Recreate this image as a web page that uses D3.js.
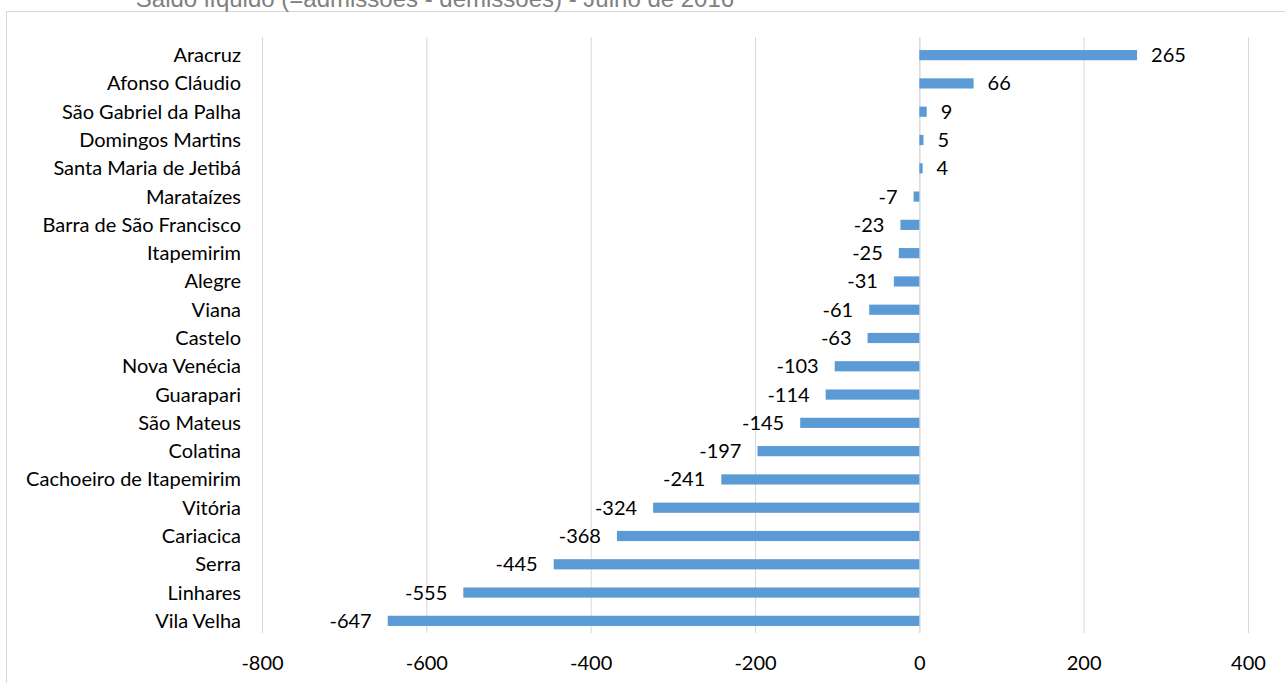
<!DOCTYPE html>
<html>
<head>
<meta charset="utf-8">
<script src="https://cdn.jsdelivr.net/npm/d3@7"></script>
<style>
  body { margin: 0; background: #fff; }
  svg { display: block; }
</style>
</head>
<body>
<svg id="chart" width="1285" height="683"></svg>
<script>
const cities = ["Aracruz", "Afonso Cláudio", "São Gabriel da Palha", "Domingos Martins",
  "Santa Maria de Jetibá", "Marataízes", "Barra de São Francisco", "Itapemirim", "Alegre",
  "Viana", "Castelo", "Nova Venécia", "Guarapari", "São Mateus", "Colatina",
  "Cachoeiro de Itapemirim", "Vitória", "Cariacica", "Serra", "Linhares", "Vila Velha"]
const saldo = [265, 66, 9, 5, 4, -7, -23, -25, -31, -61, -63, -103, -114, -145, -197,
  -241, -324, -368, -445, -555, -647]
const ticks = [-800, -600, -400, -200, 0, 200, 400]

const data = cities.map((c, i) => ({ city: c, value: saldo[i] }))

const svg = d3.select("#chart")

// outer frame (only top & left visible, like the cropped original)
svg.append("rect")
  .attr("x", 6.5).attr("y", 11.5)
  .attr("width", 1300).attr("height", 700)
  .attr("fill", "none")
  .attr("stroke", "#d9d9d9")

svg.append("text")
  .attr("x", 435).attr("y", 7)
  .attr("text-anchor", "middle")
  .style("font-family", "Liberation Sans, Arial")
  .style("font-size", "24px")
  .style("fill", "#808080")
  .text("Saldo líquido (=admissões - demissões) - Julho de 2016")

const x = d3.scaleLinear().domain([-800, 400]).range([262, 1248])
const y = d3.scaleBand().domain(cities).range([41, 635]).paddingInner(0.64).paddingOuter(0.32)

// gridlines
svg.append("g")
  .selectAll("line")
  .data(ticks)
  .join("line")
  .attr("x1", d => x(d) + 0.5).attr("x2", d => x(d) + 0.5)
  .attr("y1", 37).attr("y2", 633)
  .attr("stroke", "#d9d9d9")
  .attr("stroke-width", d => d === 0 ? 1.5 : 1)

// bars
svg.append("g")
  .selectAll("rect")
  .data(data)
  .join("rect")
  .attr("x", d => x(Math.min(0, d.value)))
  .attr("width", d => Math.abs(x(d.value) - x(0)))
  .attr("y", d => y(d.city))
  .attr("height", y.bandwidth())
  .attr("fill", "#5b9bd5")

const font = "Lato, Open Sans, sans-serif"
const fs = "20px"

// value labels
svg.append("g")
  .selectAll("text")
  .data(data)
  .join("text")
  .attr("x", d => d.value >= 0 ? x(d.value) + 14 : x(d.value) - 16)
  .attr("y", d => y(d.city) + y.bandwidth() / 2)
  .attr("dy", "0.35em")
  .attr("text-anchor", d => d.value >= 0 ? "start" : "end")
  .style("font-family", font)
  .style("font-size", fs)
  .style("fill", "#000")
  .text(d => d.value)

// category labels
svg.append("g")
  .selectAll("text")
  .data(data)
  .join("text")
  .attr("x", 241)
  .attr("y", d => y(d.city) + y.bandwidth() / 2)
  .attr("dy", "0.35em")
  .attr("text-anchor", "end")
  .style("font-family", font)
  .style("font-size", fs)
  .style("fill", "#000")
  .text(d => d.city)

// x tick labels
const xAxis = svg.append("g")
  .attr("transform", "translate(0,656)")
  .call(d3.axisBottom(x).tickValues(ticks).tickSize(0).tickPadding(0).tickFormat(d => String(d)))
xAxis.select(".domain").remove()
xAxis.selectAll("text")
  .style("font-family", font)
  .style("font-size", fs)
  .style("fill", "#000")
</script>
</body>
</html>
